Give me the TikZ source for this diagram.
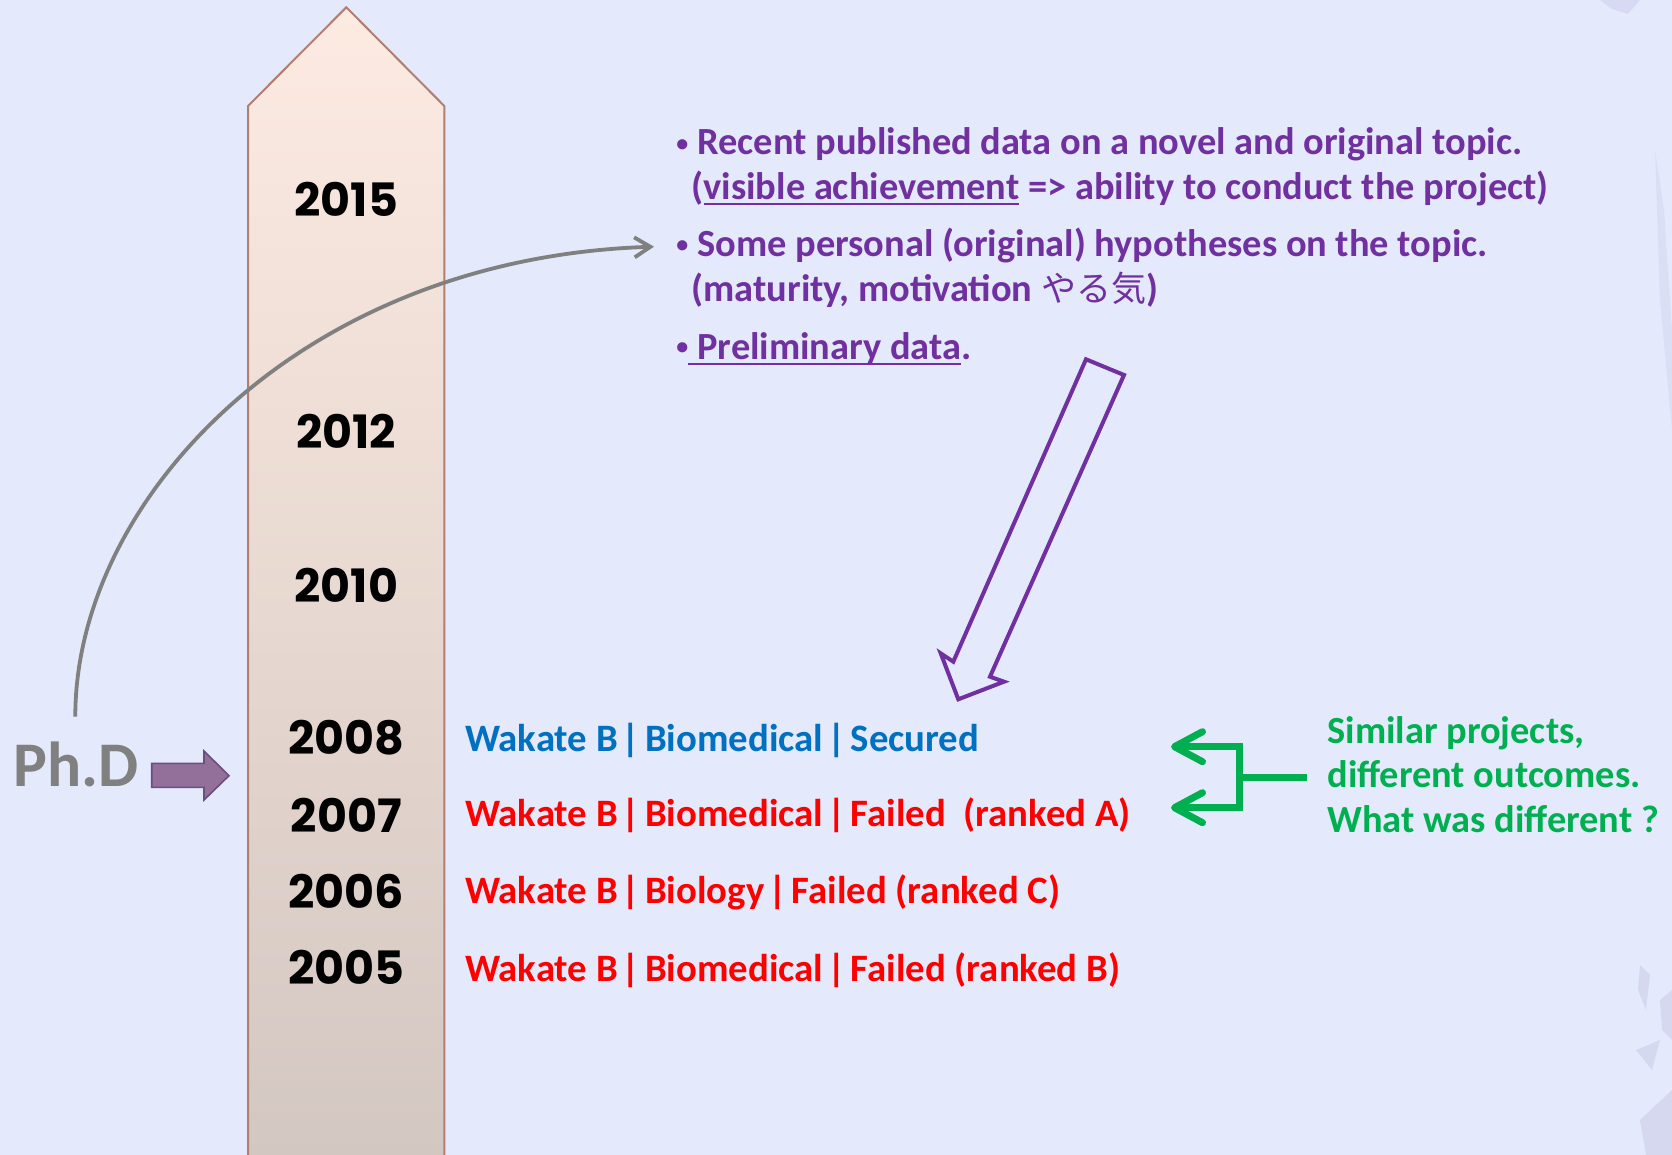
\documentclass[tikz,border=0pt]{standalone}
\usepackage{fontspec}
\setmainfont{Carlito}
\newfontfamily\yearfont{Poppins}
\newfontfamily\jpfont{Noto Sans CJK JP}
\usetikzlibrary{arrows.meta}
\definecolor{bg}{HTML}{E4E9FC}
\definecolor{tltop}{HTML}{FDEBE2}
\definecolor{tlbot}{HTML}{D3C7C1}
\definecolor{tlborder}{HTML}{B07F72}
\definecolor{wblue}{HTML}{0070C0}
\definecolor{wred}{HTML}{FF0000}
\definecolor{wgreen}{HTML}{00B050}
\definecolor{wpurple}{HTML}{7030A0}
\definecolor{wgray}{HTML}{808080}
\definecolor{phdfill}{HTML}{93709A}
\definecolor{phdline}{HTML}{6B4F7F}
\definecolor{deco}{HTML}{C9C8E6}
\newcommand\myul[1]{\setbox0\hbox{#1}\rlap{\rule[-2.3pt]{\wd0}{1pt}}\box0\relax}
\newcommand\sepbar{\hspace{2pt}|\hspace{2.4pt}}
\begin{document}
\begin{tikzpicture}[x=0.5pt,y=-0.5pt,
  year/.style={inner sep=0pt, anchor=center, font=\yearfont\bfseries\fontsize{23}{23}\selectfont},
  proj/.style={inner sep=0pt, anchor=base west, font=\bfseries\fontsize{19.4}{20}\selectfont},
  bul/.style={inner sep=0pt, anchor=base west, text=wpurple, font=\bfseries\fontsize{19.2}{20}\selectfont},
  dot/.style={inner sep=0pt, anchor=center, text=wpurple, font=\bfseries\fontsize{12}{12}\selectfont},
  gtext/.style={inner sep=0pt, anchor=base west, text=wgreen, font=\bfseries\fontsize{19.2}{20}\selectfont},
  gcurve/.style={draw=wgray, line width=1.9pt, -{Straight Barb[length=8pt,width=10pt]}},
  garrow/.style={draw=wgreen, line width=3.5pt, -{Straight Barb[length=14pt,width=15pt,round]}},
  hollow/.style={draw=wpurple, line width=2pt, line join=miter},
  phdarrow/.style={fill=phdfill, draw=phdline, line width=0.8pt},
]
\useasboundingbox (0,0) rectangle (1672,1155);
\fill[bg] (0,0) rectangle (1672,1155);
% faint background decorations at the right edge
\fill[deco, opacity=0.45] (1600,0) -- (1640,0) -- (1628,14) -- (1612,9) -- cycle;
\fill[deco, opacity=0.3] (1655,150) -- (1664,210) -- (1672,330) -- (1672,430) -- (1660,300) -- cycle;
\fill[deco, opacity=0.5] (1640,965) -- (1650,975) -- (1646,1010) -- (1638,990) -- cycle;
\fill[deco, opacity=0.5] (1660,1000) -- (1672,990) -- (1672,1040) -- (1662,1030) -- cycle;
\fill[deco, opacity=0.5] (1636,1050) -- (1660,1040) -- (1652,1070) -- cycle;
\fill[deco, opacity=0.5] (1640,1120) -- (1672,1090) -- (1672,1155) -- (1646,1155) -- cycle;

% timeline arrow
\path[draw=tlborder, line width=1pt, top color=tltop, bottom color=tlbot]
  (248,1160) -- (248,106) -- (346.3,7.3) -- (444.3,106) -- (444.3,1160) -- cycle;

% years
\node[year] (y2015) at (346.3,199) {2015};
\node[year] (y2012) at (346.3,431.7) {2012};
\node[year] (y2010) at (346.3,585) {2010};
\node[year] (y2008) at (346.3,737.8) {2008};
\node[year] (y2007) at (346.3,815) {2007};
\node[year] (y2006) at (346.3,891) {2006};
\node[year] (y2005) at (346.3,967) {2005};

% projects
\node[proj, text=wblue] (p2008) at (464.6,751.7) {Wakate B\sepbar Biomedical\sepbar Secured};
\node[proj, text=wred] (p2007) at (464.6,826.7) {Wakate B\sepbar Biomedical\sepbar Failed\ \ (ranked A)};
\node[proj, text=wred] (p2006) at (464.6,903) {Wakate B\sepbar Biology\sepbar Failed (ranked C)};
\node[proj, text=wred] (p2005) at (464.6,981.7) {Wakate B\sepbar Biomedical\sepbar Failed (ranked B)};

% bullets
\node[dot] (d1) at (682.3,146) {\textbullet};
\node[dot] (d2) at (682.3,246.7) {\textbullet};
\node[dot] (d3) at (682.3,348.3) {\textbullet};
\node[bul] (b1) at (697,155) {Recent published data on a novel and original topic.};
\node[bul] (b1b) at (691.2,200) {(\myul{visible achievement} => ability to conduct the project)};
\node[bul] (b2) at (697,256.7) {Some personal (original) hypotheses on the topic.};
\node[bul] (b2b) at (691.2,301.7) {(maturity, motivation {\jpfont\mdseries\fontsize{17.5}{18}\selectfont やる気})};
\node[bul] (b3) at (688,360) {\myul{\kern4.5pt Preliminary data}.};

% Ph.D
\node[inner sep=0pt, anchor=base west, text=wgray, font=\bfseries\fontsize{31.8}{32}\selectfont] (phd) at (13,786.7) {Ph.D};
\draw[phdarrow] (151.7,763.3) -- (204,763.3) -- (204,751) -- (229,775.7) -- (204,800) -- (204,787.3) -- (151.7,787.3) -- cycle;

% gray curved arrow
\coordinate (cs) at (75.3,716.7);
\coordinate (ce) at (654,246.7);
\draw[gcurve] (cs) .. controls (75,500) and (300,258) .. (ce);

% hollow purple arrow
\draw[hollow] (1086,359.3) -- (1124,375) -- (990,676.7) -- (1004,681.7) -- (958.3,699.3) -- (940.7,653.3) -- (953.3,661.7) -- cycle;

% green bracket
\coordinate (gs) at (1306.9,777.7);
\coordinate (gj) at (1239.7,777.7);
\coordinate (ga1) at (1171,746.7);
\coordinate (ga2) at (1171,807.7);
\draw[garrow] (gs) -- (gj) |- (ga1);
\draw[garrow] (gj) |- (ga2);

\node[gtext] (g1) at (1327,743.3) {Similar projects,};
\node[gtext] (g2) at (1327,787.7) {different outcomes.};
\node[gtext] (g3) at (1327,832.7) {What was different ?};
\end{tikzpicture}
\end{document}
